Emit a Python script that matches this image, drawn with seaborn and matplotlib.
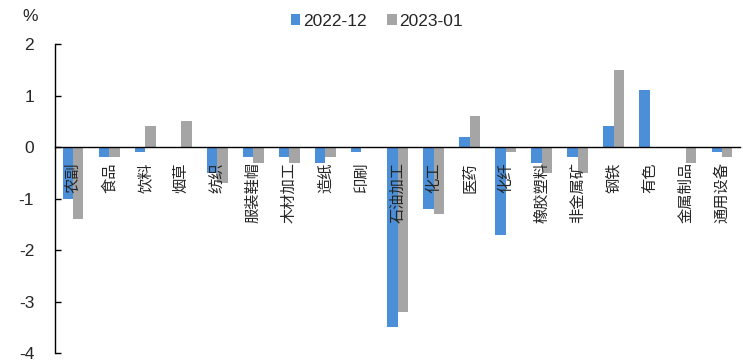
import matplotlib
matplotlib.use("Agg")
import matplotlib.pyplot as plt
import seaborn as sns
import pandas as pd
import numpy as np

# Industry categories and monthly values (%)
categories = ["农副", "食品", "饮料", "烟草", "纺织", "服装鞋帽", "木材加工", "造纸", "印刷",
              "石油加工", "化工", "医药", "化纤", "橡胶塑料", "非金属矿", "钢铁", "有色",
              "金属制品", "通用设备"]
series_names = ["2022-12", "2023-01"]
values_2022_12 = [-1.0, -0.2, -0.1, 0.0, -0.5, -0.2, -0.2, -0.3, -0.1,
                  -3.5, -1.2, 0.2, -1.7, -0.3, -0.2, 0.4, 1.1, 0.0, -0.1]
values_2023_01 = [-1.4, -0.2, 0.4, 0.5, -0.7, -0.3, -0.3, -0.2, 0.0,
                  -3.2, -1.3, 0.6, -0.1, -0.5, -0.5, 1.5, 0.0, -0.3, -0.2]
y_ticks = [2, 1, 0, -1, -2, -3, -4]

df = pd.DataFrame({
    "行业": categories * 2,
    "期间": [series_names[0]] * len(categories) + [series_names[1]] * len(categories),
    "值": values_2022_12 + values_2023_01,
})

sns.set_theme(style="white")
plt.rcParams["font.family"] = ["Liberation Sans", "Noto Sans CJK SC", "DejaVu Sans"]
plt.rcParams["axes.unicode_minus"] = False

fig = plt.figure(figsize=(7.43, 3.63), dpi=100)
ax = fig.add_axes([0.074, 0.0275, 0.922, 0.851])

palette = {"2022-12": "#4a8fd8", "2023-01": "#a5a5a5"}
sns.barplot(data=df, x="行业", y="值", hue="期间", order=categories,
            hue_order=series_names, palette=palette, saturation=1,
            width=0.58, linewidth=0, ax=ax, legend=True)

ax.set_ylim(-4, 2)
ax.set_xlim(-0.5, len(categories) - 0.5)
ax.set_yticks(y_ticks)
ax.set_xlabel("")
ax.set_ylabel("")
# keep the category labels above the bars they overlap
ax.set_axisbelow(False)

# x axis runs along zero, ticks mark category boundaries
for s in ["top", "right"]:
    ax.spines[s].set_visible(False)
ax.spines["bottom"].set_position(("data", 0))
for s in ["bottom", "left"]:
    ax.spines[s].set_color("black")
    ax.spines[s].set_linewidth(1.0)

ax.set_xticks(np.arange(len(categories)))
ax.set_xticklabels(categories, rotation=90, family=["Noto Sans CJK SC"], fontsize=11,
                   va="top", ha="center")
ax.tick_params(axis="x", which="major", length=0, pad=11)
ax.set_xticks(np.arange(-0.5, len(categories), 1.0), minor=True)
ax.tick_params(axis="x", which="minor", direction="in", length=4, color="black", width=1)
ax.tick_params(axis="y", direction="in", length=4, color="black", width=1,
               labelsize=12.5, pad=15, left=True)

ax.legend(loc="center", bbox_to_anchor=(0.507, 0.942), bbox_transform=fig.transFigure,
          ncol=2, frameon=False, handlelength=0.55, handleheight=0.55, handletextpad=0.15,
          columnspacing=1.2, fontsize=12.5, borderaxespad=0, borderpad=0)

fig.text(0.041, 0.955, "%", fontsize=12.5, ha="center", va="center")

fig.savefig("out.png", dpi=100)
